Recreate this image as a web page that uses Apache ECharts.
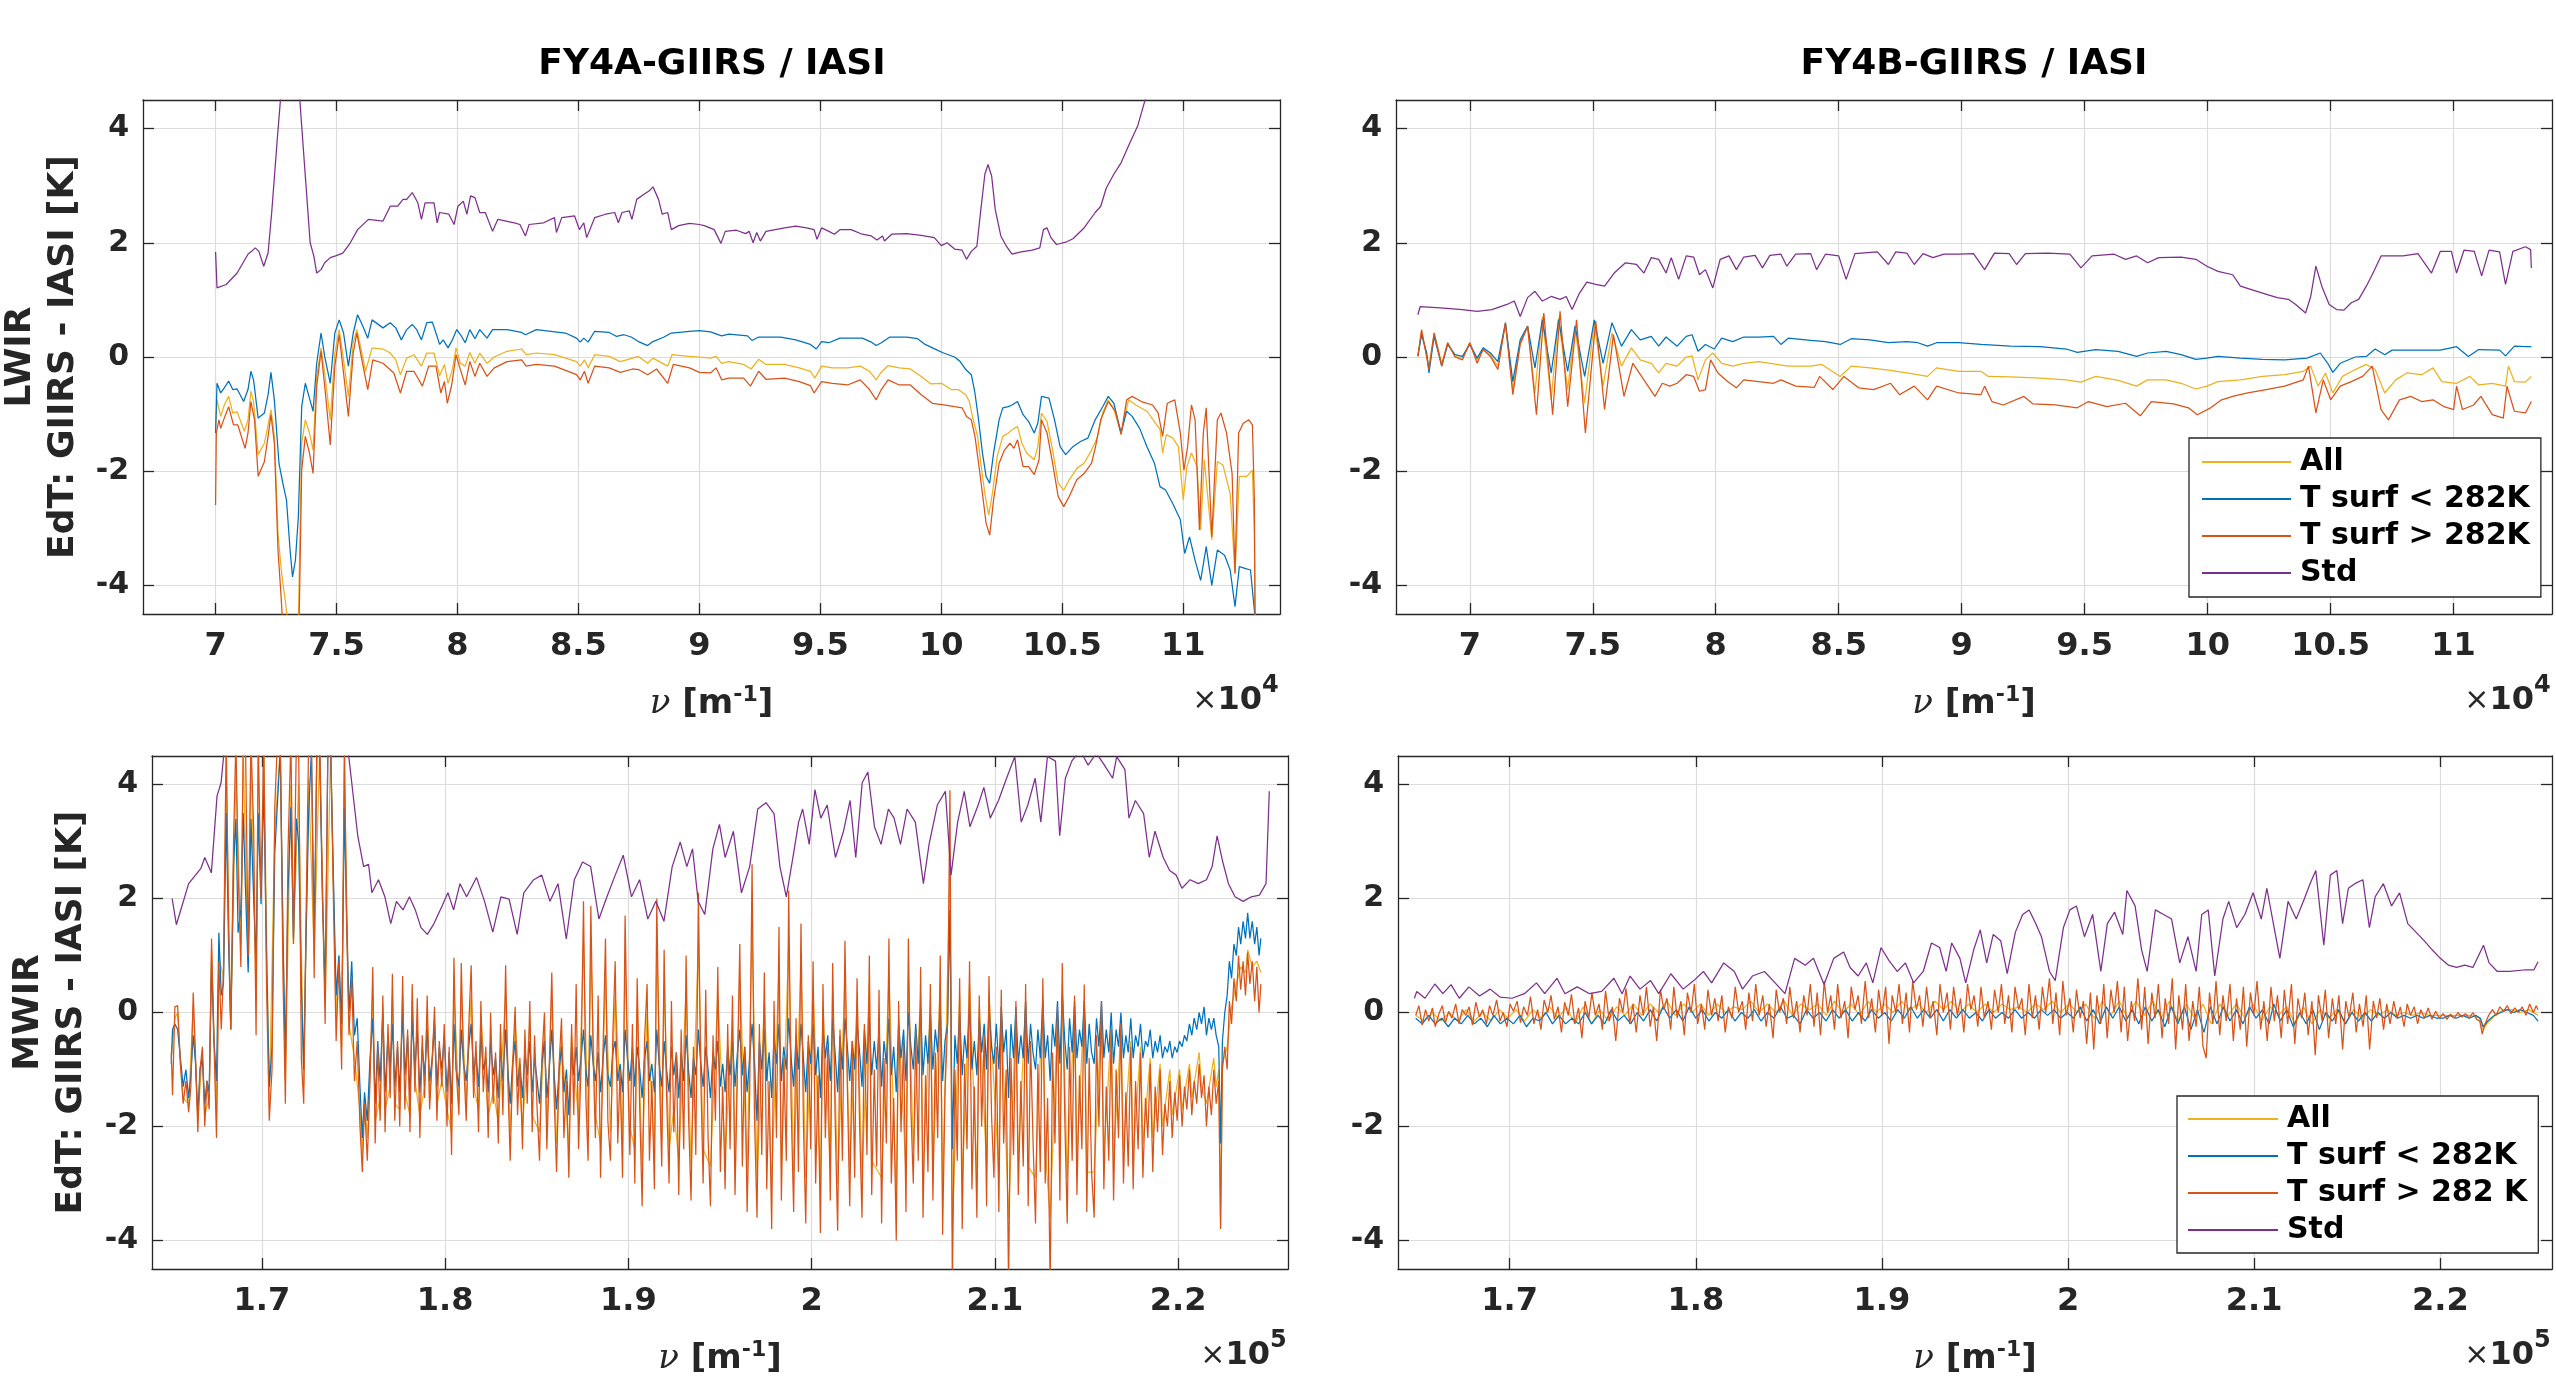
<!DOCTYPE html>
<html><head><meta charset="utf-8">
<script src="https://cdn.jsdelivr.net/npm/echarts@6/dist/echarts.min.js"></script>
<style>html,body{margin:0;padding:0;background:#fff}#c{width:2556px;height:1379px}</style>
</head><body><div id="c"></div>
<script>
// ---------- tick values & labels ----------
const lwirTicks = [7, 7.5, 8, 8.5, 9, 9.5, 10, 10.5, 11];
const mwirTicks = [1.7, 1.8, 1.9, 2.0, 2.1, 2.2];
const yTicks = [-4, -2, 0, 2, 4];
const panelTitles = ['FY4A-GIIRS / IASI', 'FY4B-GIIRS / IASI'];
const bandNames = ['LWIR', 'MWIR'];
const legendTop = ['All', 'T surf < 282K', 'T surf > 282K', 'Std'];
const legendBottom = ['All', 'T surf < 282K', 'T surf > 282 K', 'Std'];

// ---------- FY4A LWIR (x in 1e4 m^-1) : flat [x,y,x,y,...] ----------
const fy4aLwirAll = [7.000,-1.22,7.006,-0.75,7.021,-1.04,7.036,-0.84,7.054,-0.69,7.071,-0.98,7.089,-0.96,7.119,-1.30,7.134,-1.10,7.146,-0.60,7.157,-0.78,7.176,-1.71,7.202,-1.51,7.217,-1.19,7.229,-0.92,7.243,-1.39,7.258,-3.09,7.273,-3.79,7.288,-4.26,7.300,-4.70,7.342,-4.70,7.356,-1.51,7.371,-1.10,7.388,-1.33,7.403,-1.63,7.418,-0.34,7.436,0.16,7.451,-0.28,7.474,-1.10,7.493,0.07,7.511,0.48,7.529,-0.05,7.549,-0.69,7.569,0.25,7.584,0.48,7.602,0.13,7.620,-0.25,7.647,0.16,7.692,0.14,7.722,0.07,7.745,-0.05,7.764,-0.31,7.790,-0.02,7.820,0.04,7.851,-0.16,7.873,0.07,7.903,0.07,7.926,-0.33,7.946,-0.13,7.961,-0.46,7.979,-0.22,7.994,0.16,8.012,-0.11,8.032,-0.16,8.051,0.08,8.072,-0.11,8.092,0.07,8.122,-0.11,8.152,0.00,8.205,0.10,8.265,0.14,8.284,0.04,8.326,0.07,8.401,0.04,8.492,-0.08,8.507,-0.16,8.525,-0.05,8.540,-0.19,8.567,0.04,8.627,0.01,8.673,-0.08,8.724,-0.02,8.748,0.01,8.786,-0.11,8.808,-0.02,8.869,-0.16,8.887,0.04,8.959,0.01,9.000,0.00,9.046,-0.02,9.069,0.01,9.092,-0.11,9.122,-0.08,9.183,-0.13,9.214,-0.21,9.245,-0.04,9.275,-0.13,9.352,-0.13,9.413,-0.19,9.459,-0.25,9.477,-0.37,9.505,-0.16,9.550,-0.19,9.612,-0.19,9.665,-0.16,9.703,-0.25,9.731,-0.40,9.749,-0.28,9.780,-0.15,9.826,-0.19,9.872,-0.21,9.917,-0.34,9.955,-0.47,10.001,-0.46,10.040,-0.57,10.070,-0.57,10.101,-0.66,10.116,-0.78,10.132,-1.10,10.150,-1.39,10.165,-1.92,10.180,-2.39,10.196,-2.77,10.211,-2.39,10.231,-1.74,10.254,-1.39,10.277,-1.33,10.300,-1.25,10.315,-1.22,10.333,-1.51,10.353,-1.68,10.384,-1.80,10.399,-1.57,10.414,-0.98,10.437,-1.13,10.460,-1.63,10.483,-2.21,10.506,-2.33,10.529,-2.15,10.560,-1.95,10.590,-1.86,10.621,-1.63,10.644,-1.42,10.667,-0.98,10.690,-0.75,10.713,-0.92,10.743,-1.33,10.774,-0.75,10.804,-0.84,10.850,-0.95,10.881,-1.13,10.904,-1.27,10.915,-1.68,10.930,-1.36,10.957,-1.42,10.980,-1.57,11.000,-2.50,11.015,-1.92,11.034,-1.68,11.057,-1.92,11.072,-3.03,11.087,-1.80,11.118,-3.20,11.141,-1.83,11.164,-1.89,11.194,-2.39,11.214,-3.79,11.232,-2.09,11.263,-2.09,11.286,-1.98,11.294,-3.09,11.297,-4.60];
const fy4aLwirCold = [7.000,-1.33,7.006,-0.46,7.021,-0.63,7.036,-0.54,7.054,-0.42,7.071,-0.57,7.089,-0.56,7.116,-0.78,7.134,-0.57,7.146,-0.25,7.157,-0.40,7.176,-1.07,7.202,-0.98,7.217,-0.66,7.229,-0.27,7.243,-0.75,7.262,-1.86,7.278,-2.21,7.293,-2.50,7.308,-3.38,7.318,-3.85,7.330,-3.56,7.342,-2.81,7.356,-0.87,7.371,-0.46,7.388,-0.72,7.403,-0.95,7.418,-0.11,7.436,0.42,7.451,0.01,7.474,-0.46,7.493,0.42,7.511,0.65,7.529,0.42,7.549,-0.16,7.569,0.42,7.587,0.74,7.609,0.54,7.629,0.33,7.647,0.65,7.692,0.51,7.722,0.60,7.745,0.51,7.768,0.30,7.790,0.48,7.813,0.57,7.831,0.48,7.851,0.30,7.873,0.60,7.896,0.61,7.911,0.42,7.926,0.22,7.941,0.30,7.961,0.16,7.979,0.30,7.997,0.48,8.017,0.36,8.032,0.25,8.051,0.48,8.072,0.32,8.092,0.48,8.122,0.33,8.145,0.48,8.205,0.48,8.265,0.43,8.281,0.39,8.326,0.48,8.386,0.45,8.446,0.42,8.492,0.33,8.507,0.26,8.522,0.33,8.540,0.26,8.567,0.45,8.627,0.43,8.658,0.36,8.688,0.39,8.718,0.35,8.748,0.27,8.786,0.20,8.808,0.27,8.854,0.35,8.884,0.42,8.959,0.45,9.000,0.46,9.046,0.44,9.092,0.37,9.122,0.40,9.199,0.37,9.217,0.29,9.245,0.35,9.336,0.35,9.398,0.30,9.459,0.22,9.483,0.14,9.505,0.27,9.535,0.25,9.581,0.33,9.673,0.33,9.711,0.26,9.731,0.20,9.752,0.25,9.787,0.35,9.856,0.35,9.902,0.32,9.933,0.22,9.979,0.13,10.009,0.07,10.055,0.00,10.078,-0.08,10.101,-0.22,10.124,-0.31,10.139,-0.63,10.154,-1.10,10.170,-1.68,10.185,-2.09,10.200,-2.21,10.216,-1.68,10.239,-1.10,10.254,-0.89,10.277,-0.87,10.292,-0.84,10.315,-0.78,10.338,-1.01,10.361,-1.13,10.384,-1.33,10.399,-1.16,10.414,-0.69,10.445,-0.72,10.468,-1.10,10.491,-1.57,10.514,-1.71,10.544,-1.57,10.575,-1.48,10.606,-1.42,10.636,-1.10,10.667,-0.87,10.690,-0.69,10.713,-0.81,10.743,-1.33,10.766,-0.95,10.789,-1.04,10.820,-1.25,10.850,-1.57,10.881,-1.86,10.904,-2.27,10.927,-2.33,10.957,-2.57,10.988,-2.85,11.006,-3.44,11.026,-3.15,11.049,-3.56,11.072,-3.91,11.095,-3.32,11.118,-4.00,11.141,-3.38,11.171,-3.47,11.194,-3.73,11.214,-4.37,11.232,-3.67,11.255,-3.70,11.278,-3.73,11.294,-4.43,11.297,-4.60];
const fy4aLwirWarm = [7.000,-2.59,7.003,-1.33,7.014,-1.10,7.021,-1.25,7.036,-1.07,7.054,-0.87,7.074,-1.19,7.092,-1.19,7.122,-1.60,7.134,-1.33,7.146,-0.78,7.161,-1.10,7.176,-2.09,7.202,-1.83,7.217,-1.39,7.229,-1.01,7.243,-1.51,7.258,-3.38,7.270,-4.14,7.278,-4.70,7.345,-4.70,7.356,-1.98,7.371,-1.39,7.388,-1.68,7.403,-2.04,7.418,-0.51,7.436,0.10,7.454,-0.63,7.474,-1.54,7.493,-0.16,7.511,0.39,7.529,-0.28,7.549,-1.04,7.569,0.07,7.584,0.42,7.602,0.01,7.629,-0.57,7.650,-0.05,7.692,-0.11,7.737,-0.28,7.764,-0.63,7.790,-0.25,7.820,-0.25,7.855,-0.51,7.881,-0.16,7.911,-0.16,7.931,-0.63,7.946,-0.43,7.958,-0.81,7.976,-0.49,7.994,0.04,8.012,-0.22,8.032,-0.49,8.051,-0.08,8.072,-0.34,8.092,-0.11,8.122,-0.34,8.152,-0.19,8.205,-0.08,8.265,-0.05,8.284,-0.16,8.326,-0.13,8.401,-0.16,8.492,-0.31,8.507,-0.40,8.525,-0.25,8.540,-0.46,8.567,-0.16,8.627,-0.19,8.673,-0.27,8.724,-0.21,8.748,-0.22,8.786,-0.31,8.823,-0.21,8.869,-0.46,8.892,-0.13,8.959,-0.19,9.000,-0.27,9.046,-0.28,9.069,-0.19,9.092,-0.40,9.122,-0.37,9.183,-0.37,9.211,-0.51,9.245,-0.25,9.275,-0.39,9.352,-0.37,9.413,-0.43,9.459,-0.50,9.474,-0.63,9.505,-0.43,9.550,-0.46,9.612,-0.49,9.665,-0.40,9.703,-0.57,9.731,-0.75,9.752,-0.57,9.780,-0.40,9.826,-0.49,9.872,-0.49,9.917,-0.66,9.963,-0.81,10.009,-0.84,10.055,-0.87,10.086,-0.89,10.104,-1.04,10.124,-1.10,10.139,-1.39,10.154,-1.86,10.170,-2.39,10.185,-2.91,10.200,-3.12,10.216,-2.50,10.239,-1.86,10.261,-1.63,10.284,-1.51,10.300,-1.60,10.315,-1.45,10.338,-1.92,10.361,-1.92,10.384,-2.06,10.404,-1.80,10.414,-1.10,10.437,-1.33,10.460,-1.86,10.483,-2.44,10.506,-2.62,10.529,-2.44,10.560,-2.15,10.590,-2.04,10.621,-1.86,10.636,-1.60,10.659,-1.10,10.690,-0.78,10.720,-0.95,10.743,-1.36,10.766,-0.75,10.789,-0.69,10.827,-0.78,10.873,-0.84,10.896,-0.98,10.915,-1.39,10.934,-0.81,10.965,-0.75,10.988,-1.33,11.003,-1.98,11.018,-1.57,11.034,-0.84,11.049,-1.10,11.067,-3.03,11.083,-1.33,11.095,-0.89,11.118,-3.15,11.141,-1.10,11.156,-0.98,11.179,-1.33,11.202,-2.04,11.214,-3.79,11.229,-1.33,11.248,-1.16,11.271,-1.10,11.286,-1.19,11.294,-2.50,11.297,-4.60];
const fy4aLwirStd = [7.000,1.84,7.006,1.21,7.044,1.27,7.089,1.47,7.134,1.80,7.149,1.85,7.164,1.91,7.179,1.85,7.199,1.59,7.217,1.82,7.232,2.53,7.255,3.81,7.270,4.60,7.290,6.20,7.310,6.80,7.330,6.00,7.345,4.70,7.353,4.22,7.373,3.05,7.391,2.00,7.406,1.77,7.418,1.47,7.436,1.53,7.451,1.65,7.474,1.74,7.496,1.77,7.526,1.82,7.557,2.00,7.587,2.23,7.632,2.41,7.692,2.38,7.722,2.64,7.753,2.64,7.775,2.76,7.790,2.76,7.813,2.88,7.836,2.70,7.851,2.41,7.866,2.70,7.903,2.70,7.916,2.35,7.926,2.53,7.964,2.50,7.986,2.32,8.002,2.64,8.024,2.73,8.039,2.50,8.054,2.82,8.072,2.79,8.092,2.53,8.115,2.53,8.145,2.20,8.167,2.41,8.235,2.35,8.258,2.32,8.281,2.12,8.296,2.32,8.356,2.35,8.401,2.44,8.409,2.18,8.431,2.44,8.484,2.47,8.504,2.23,8.522,2.35,8.534,2.09,8.567,2.44,8.612,2.50,8.650,2.53,8.665,2.35,8.680,2.53,8.710,2.56,8.721,2.41,8.741,2.76,8.771,2.85,8.793,2.91,8.808,2.98,8.831,2.76,8.846,2.50,8.869,2.53,8.884,2.23,8.914,2.30,8.959,2.34,9.000,2.32,9.020,2.30,9.061,2.23,9.089,1.99,9.107,2.20,9.153,2.22,9.191,2.16,9.206,2.20,9.222,2.00,9.237,2.18,9.252,2.03,9.275,2.20,9.352,2.26,9.398,2.29,9.443,2.26,9.474,2.23,9.486,2.06,9.505,2.26,9.535,2.20,9.558,2.15,9.581,2.23,9.627,2.23,9.673,2.15,9.711,2.12,9.734,2.05,9.757,2.12,9.765,2.03,9.795,2.15,9.856,2.16,9.917,2.13,9.971,2.09,10.000,1.95,10.024,2.00,10.055,1.89,10.086,1.87,10.104,1.71,10.124,1.85,10.147,1.94,10.162,2.53,10.180,3.20,10.193,3.37,10.208,3.17,10.223,2.58,10.246,2.12,10.269,1.94,10.292,1.80,10.330,1.84,10.376,1.87,10.407,1.91,10.422,2.23,10.437,2.26,10.453,2.09,10.476,1.97,10.514,2.01,10.544,2.07,10.590,2.26,10.636,2.53,10.659,2.64,10.682,2.96,10.713,3.20,10.743,3.40,10.774,3.70,10.812,4.05,10.843,4.51,10.900,5.20,11.000,6.40,11.150,8.00,11.297,9.50];

// ---------- FY4B LWIR ----------
const fy4bLwirAll = [6.789,0.01,6.804,0.45,6.834,-0.16,6.855,0.42,6.886,-0.11,6.910,0.25,6.940,0.01,6.970,-0.02,7.000,0.25,7.030,-0.05,7.054,0.13,7.084,0.04,7.114,-0.16,7.145,0.58,7.175,-0.57,7.205,0.25,7.235,0.54,7.265,-0.63,7.295,0.71,7.331,-0.75,7.361,0.68,7.398,-0.57,7.428,0.54,7.467,-0.81,7.506,0.60,7.542,-0.51,7.578,0.42,7.617,-0.16,7.657,0.16,7.693,-0.05,7.738,-0.11,7.768,-0.28,7.798,-0.11,7.843,-0.16,7.880,0.00,7.904,0.02,7.928,-0.40,7.958,-0.05,7.988,0.07,8.024,-0.11,8.069,-0.16,8.114,-0.11,8.175,-0.08,8.235,-0.12,8.295,-0.16,8.386,-0.16,8.431,-0.13,8.506,-0.34,8.551,-0.16,8.627,-0.19,8.702,-0.23,8.777,-0.28,8.861,-0.34,8.898,-0.19,8.988,-0.25,9.078,-0.25,9.108,-0.34,9.199,-0.35,9.319,-0.37,9.425,-0.40,9.485,-0.44,9.545,-0.34,9.636,-0.41,9.711,-0.51,9.756,-0.40,9.831,-0.40,9.892,-0.46,9.952,-0.56,9.997,-0.51,10.042,-0.43,10.133,-0.40,10.223,-0.34,10.313,-0.31,10.389,-0.25,10.419,-0.16,10.449,-0.51,10.479,-0.28,10.509,-0.63,10.548,-0.34,10.600,-0.22,10.645,-0.13,10.681,-0.22,10.720,-0.63,10.765,-0.40,10.810,-0.28,10.870,-0.31,10.916,-0.19,10.952,-0.43,11.012,-0.46,11.066,-0.34,11.102,-0.49,11.157,-0.46,11.211,-0.51,11.223,-0.16,11.247,-0.43,11.292,-0.44,11.316,-0.34];
const fy4bLwirCold = [6.789,0.02,6.804,0.39,6.825,0.07,6.834,-0.28,6.855,0.36,6.886,-0.16,6.910,0.22,6.940,0.04,6.970,0.01,7.000,0.22,7.030,-0.02,7.054,0.16,7.084,0.07,7.114,-0.08,7.145,0.60,7.175,-0.43,7.205,0.30,7.235,0.54,7.265,-0.19,7.295,0.65,7.331,-0.28,7.361,0.65,7.398,-0.25,7.428,0.54,7.467,-0.34,7.506,0.65,7.542,-0.11,7.578,0.60,7.617,0.19,7.657,0.48,7.693,0.30,7.738,0.36,7.768,0.19,7.798,0.35,7.843,0.19,7.880,0.36,7.904,0.39,7.928,0.10,7.958,0.22,7.994,0.14,8.024,0.33,8.069,0.27,8.114,0.35,8.175,0.35,8.235,0.36,8.265,0.22,8.295,0.33,8.386,0.29,8.446,0.27,8.506,0.22,8.551,0.32,8.627,0.30,8.702,0.25,8.777,0.27,8.822,0.25,8.861,0.19,8.898,0.25,8.988,0.25,9.078,0.22,9.199,0.19,9.319,0.18,9.425,0.14,9.470,0.08,9.545,0.13,9.636,0.10,9.711,0.01,9.756,0.07,9.831,0.10,9.892,0.04,9.952,-0.04,9.997,-0.02,10.042,0.01,10.133,-0.02,10.223,-0.04,10.313,-0.05,10.404,-0.02,10.458,0.07,10.488,-0.11,10.509,-0.27,10.539,-0.11,10.600,0.00,10.645,0.01,10.681,0.14,10.720,0.04,10.750,0.12,10.855,0.12,10.946,0.12,11.012,0.18,11.060,0.01,11.102,0.13,11.187,0.12,11.211,0.02,11.247,0.19,11.292,0.18,11.316,0.18];
const fy4bLwirWarm = [6.789,0.01,6.804,0.48,6.834,-0.22,6.855,0.42,6.886,-0.16,6.910,0.25,6.940,0.00,6.970,-0.05,7.000,0.25,7.030,-0.11,7.054,0.13,7.084,0.01,7.114,-0.22,7.145,0.60,7.175,-0.66,7.205,0.22,7.235,0.54,7.271,-1.01,7.301,0.77,7.337,-1.01,7.367,0.80,7.398,-0.87,7.434,0.65,7.470,-1.33,7.512,0.63,7.548,-0.92,7.584,0.39,7.627,-0.69,7.663,-0.11,7.708,-0.40,7.753,-0.69,7.783,-0.46,7.813,-0.51,7.843,-0.46,7.880,-0.31,7.910,-0.34,7.934,-0.60,7.958,-0.57,7.979,-0.05,8.009,-0.28,8.048,-0.43,8.084,-0.54,8.114,-0.40,8.175,-0.43,8.235,-0.46,8.265,-0.40,8.325,-0.51,8.401,-0.53,8.422,-0.34,8.476,-0.57,8.521,-0.34,8.581,-0.54,8.642,-0.57,8.711,-0.46,8.747,-0.66,8.807,-0.51,8.861,-0.75,8.898,-0.51,8.988,-0.63,9.078,-0.66,9.093,-0.51,9.123,-0.78,9.169,-0.84,9.253,-0.69,9.289,-0.82,9.380,-0.84,9.470,-0.89,9.515,-0.78,9.590,-0.87,9.666,-0.81,9.726,-1.03,9.771,-0.78,9.861,-0.82,9.922,-0.89,9.958,-1.01,10.012,-0.89,10.057,-0.75,10.102,-0.69,10.163,-0.63,10.238,-0.57,10.313,-0.51,10.389,-0.40,10.410,-0.16,10.440,-0.98,10.470,-0.40,10.500,-0.75,10.539,-0.51,10.584,-0.43,10.630,-0.34,10.669,-0.16,10.705,-0.92,10.735,-1.10,10.780,-0.75,10.825,-0.69,10.870,-0.78,10.916,-0.75,10.961,-0.87,11.000,-0.92,11.012,-0.51,11.036,-0.92,11.081,-0.84,11.111,-0.69,11.157,-1.01,11.202,-1.07,11.217,-0.51,11.247,-0.95,11.292,-0.98,11.316,-0.78];
const fy4bLwirStd = [6.789,0.74,6.798,0.88,6.880,0.86,6.970,0.83,7.030,0.80,7.090,0.83,7.151,0.92,7.181,0.98,7.205,0.71,7.235,1.04,7.265,1.15,7.295,0.98,7.331,1.06,7.367,1.01,7.392,1.06,7.416,0.83,7.446,1.12,7.476,1.31,7.512,1.27,7.548,1.24,7.587,1.47,7.633,1.65,7.678,1.62,7.708,1.47,7.738,1.74,7.768,1.71,7.798,1.47,7.819,1.74,7.849,1.36,7.880,1.77,7.910,1.75,7.934,1.44,7.958,1.53,7.988,1.21,8.018,1.71,8.054,1.77,8.084,1.53,8.114,1.75,8.160,1.78,8.190,1.56,8.220,1.78,8.265,1.80,8.289,1.59,8.325,1.80,8.386,1.81,8.410,1.53,8.446,1.80,8.500,1.77,8.530,1.36,8.566,1.81,8.657,1.84,8.702,1.62,8.732,1.84,8.777,1.82,8.807,1.62,8.843,1.81,8.883,1.74,8.928,1.80,8.988,1.80,9.048,1.81,9.093,1.53,9.133,1.82,9.193,1.81,9.223,1.62,9.259,1.81,9.349,1.82,9.440,1.80,9.485,1.56,9.530,1.77,9.620,1.80,9.666,1.71,9.711,1.77,9.756,1.65,9.801,1.74,9.892,1.75,9.952,1.71,9.997,1.59,10.042,1.50,10.102,1.44,10.133,1.24,10.178,1.18,10.223,1.12,10.283,1.04,10.328,1.01,10.358,0.92,10.398,0.77,10.419,1.06,10.440,1.59,10.464,1.24,10.494,0.92,10.524,0.83,10.554,0.82,10.584,0.95,10.614,1.01,10.645,1.24,10.669,1.44,10.705,1.77,10.750,1.77,10.795,1.77,10.855,1.81,10.910,1.47,10.946,1.85,10.991,1.85,11.012,1.47,11.042,1.87,11.084,1.85,11.114,1.42,11.144,1.87,11.187,1.84,11.211,1.27,11.241,1.85,11.292,1.93,11.313,1.88,11.316,1.56];

// ---------- FY4A MWIR (x in 1e5 m^-1) ----------
const fy4aMwirAll = [1.6505,-0.8,1.6525,-0.1,1.6540,0.0,1.6555,-0.9,1.6570,-1.5,1.6600,-1.6,1.6625,0.1,1.6650,-1.9,1.6675,-0.7,1.6688,-1.8,1.6712,-1.5,1.6725,1.1,1.6752,-1.8,1.6765,1.0,1.6790,0.6,1.6805,4.2,1.6830,-0.3,1.6858,4.2,1.6885,1.2,1.6898,4.6,1.6925,0.8,1.6940,4.6,1.6968,0.2,1.6980,4.6,1.7010,4.6,1.7040,-1.6,1.7070,3.2,1.7100,4.6,1.7128,-1.2,1.7158,4.0,1.7172,1.2,1.7200,4.0,1.7228,-1.3,1.7255,4.1,1.7285,1.0,1.7315,4.6,1.7345,0.1,1.7375,4.6,1.7405,-0.1,1.7420,1.0,1.7435,-0.6,1.7450,4.2,1.7475,-0.2,1.7505,-0.8,1.7535,-1.7,1.7548,-2.5,1.7560,-1.5,1.7575,-2.2,1.7590,-1.0,1.7605,0.3,1.7618,-1.9,1.7645,-1.5,1.7660,0.1,1.7672,-1.7,1.7700,-1.3,1.7712,0.3,1.7725,-1.6,1.7752,-1.7,1.7768,0.3,1.7780,-1.4,1.7808,-1.8,1.7820,0.2,1.7835,-1.2,1.7862,-1.8,1.7888,-1.3,1.7902,0.0,1.7915,-1.5,1.7942,-0.1,1.7955,-1.6,1.7982,-1.2,1.8010,-1.7,1.8035,-2.1,1.8048,0.4,1.8075,-1.6,1.8088,0.3,1.8115,-1.6,1.8142,0.3,1.8155,-1.3,1.8182,-1.7,1.8195,-0.1,1.8235,-1.8,1.8262,-1.4,1.8290,-1.9,1.8330,0.3,1.8355,-2.1,1.8382,-0.2,1.8422,-2.0,1.8462,-0.2,1.8475,-1.8,1.8515,-2.1,1.8542,-0.3,1.8555,-2.0,1.8582,0.2,1.8608,-2.3,1.8635,-0.4,1.8675,-2.4,1.8690,-0.4,1.8728,-1.9,1.8755,1.2,1.8780,-2.1,1.8795,1.1,1.8820,-1.8,1.8848,-2.3,1.8875,0.6,1.8902,-2.1,1.8928,0.3,1.8968,-2.3,1.8982,0.9,1.9008,-2.0,1.9035,-2.4,1.9048,0.1,1.9075,-2.7,1.9102,0.0,1.9142,-2.5,1.9155,1.2,1.9182,-2.2,1.9195,0.5,1.9222,-2.4,1.9248,-1.7,1.9275,-2.6,1.9315,0.4,1.9342,-2.7,1.9382,1.2,1.9408,-2.4,1.9448,-2.7,1.9488,0.3,1.9528,-2.5,1.9568,-0.1,1.9582,-2.6,1.9608,0.6,1.9648,-2.8,1.9675,1.5,1.9702,-2.9,1.9742,0.2,1.9782,-3.0,1.9822,0.8,1.9835,-2.7,1.9875,1.2,1.9902,-2.8,1.9942,0.8,1.9968,-2.9,2.0008,0.4,2.0048,-3.0,2.0062,0.1,2.0102,-2.7,2.0115,0.4,2.0142,-3.0,2.0182,0.6,2.0208,-2.7,2.0248,0.2,2.0275,-2.9,2.0315,0.5,2.0328,-2.6,2.0382,-2.9,2.0422,0.6,2.0462,-3.2,2.0475,-0.1,2.0515,-2.8,2.0528,0.6,2.0555,-2.4,2.0595,0.3,2.0608,-2.9,2.0648,0.2,2.0662,-2.7,2.0702,0.5,2.0715,-3.1,2.0755,2.5,2.0768,-3.8,2.0808,0.3,2.0822,-3.0,2.0862,0.5,2.0902,-2.9,2.0915,0.1,2.0955,-2.7,2.0968,0.3,2.1022,-2.8,2.1035,0.1,2.1075,-3.6,2.1115,0.0,2.1128,-2.6,2.1168,0.2,2.1182,-2.7,2.1222,-2.9,2.1262,0.3,2.1275,-2.4,2.1302,-3.6,2.1342,-0.1,2.1355,-2.6,2.1368,0.5,2.1395,-2.9,2.1435,0.1,2.1448,-2.6,2.1488,0.2,2.1502,-2.8,2.1542,-2.8,2.1582,0.0,2.1595,-2.5,2.1635,-0.3,2.1648,-2.6,2.1688,-0.3,2.1702,-2.4,2.1742,-0.5,2.1755,-2.5,2.1795,-0.6,2.1808,-2.3,2.1848,-0.8,2.1862,-2.2,2.1902,-0.9,2.1915,-2.0,2.1955,-1.0,2.1968,-1.8,2.2008,-1.0,2.2022,-1.7,2.2062,-0.9,2.2075,-1.5,2.2115,-0.7,2.2128,-1.3,2.2155,-1.6,2.2195,-0.8,2.2208,-1.3,2.2222,-1.0,2.2232,-3.8,2.2242,-0.9,2.2268,-0.6,2.2292,0.1,2.2318,0.5,2.2342,0.8,2.2368,0.7,2.2380,1.1,2.2405,0.8,2.2430,0.9,2.2452,0.7];
const fy4aMwirCold = [1.6505,-0.9,1.6512,-0.3,1.6525,-0.2,1.6540,-0.3,1.6555,-0.8,1.6570,-1.3,1.6585,-1.0,1.6600,-1.5,1.6612,-1.1,1.6625,-0.4,1.6638,-0.9,1.6650,-1.8,1.6662,-1.0,1.6675,-0.8,1.6688,-1.6,1.6700,-1.2,1.6712,-1.4,1.6725,0.9,1.6738,-0.5,1.6752,-1.2,1.6765,1.4,1.6778,0.3,1.6790,0.5,1.6805,3.5,1.6818,1.2,1.6830,-0.3,1.6845,2.6,1.6858,3.4,1.6870,1.4,1.6885,1.8,1.6898,3.5,1.6910,2.2,1.6925,0.7,1.6940,3.4,1.6955,2.0,1.6968,0.9,1.6980,3.5,1.6995,1.9,1.7010,4.0,1.7025,1.0,1.7040,-1.3,1.7055,-0.6,1.7070,2.8,1.7085,3.7,1.7100,4.6,1.7115,1.3,1.7128,-0.8,1.7142,2.1,1.7158,3.6,1.7172,1.3,1.7188,3.4,1.7200,3.0,1.7215,0.5,1.7228,-1.0,1.7240,1.2,1.7255,3.5,1.7270,4.6,1.7285,1.4,1.7300,4.6,1.7315,4.6,1.7330,2.0,1.7345,0.4,1.7360,4.6,1.7375,4.6,1.7390,2.4,1.7405,0.3,1.7420,1.0,1.7435,-0.2,1.7450,3.6,1.7462,1.7,1.7475,0.0,1.7490,0.9,1.7505,-0.4,1.7520,-0.1,1.7535,-1.3,1.7548,-2.2,1.7560,-1.4,1.7575,-1.9,1.7590,-0.8,1.7605,-0.1,1.7618,-1.6,1.7632,-0.5,1.7645,-1.2,1.7660,0.0,1.7672,-1.4,1.7688,-0.4,1.7700,-1.0,1.7712,-0.2,1.7725,-1.3,1.7740,-0.6,1.7752,-1.4,1.7768,0.0,1.7780,-1.1,1.7795,-0.4,1.7808,-1.5,1.7820,-0.1,1.7835,-1.0,1.7848,-0.3,1.7862,-1.4,1.7875,-0.6,1.7888,-1.1,1.7902,-0.3,1.7915,-1.2,1.7930,-0.8,1.7942,-0.2,1.7955,-1.3,1.7968,-0.6,1.7982,-1.0,1.7995,-0.4,1.8010,-1.4,1.8022,-0.7,1.8035,-1.6,1.8048,-0.2,1.8060,-1.0,1.8075,-1.3,1.8088,-0.3,1.8100,-0.9,1.8115,-1.2,1.8128,-0.6,1.8142,-0.2,1.8155,-1.1,1.8168,-0.7,1.8182,-1.3,1.8195,-0.4,1.8208,-1.0,1.8222,-0.8,1.8235,-1.4,1.8248,-0.5,1.8262,-1.1,1.8275,-0.8,1.8290,-1.5,1.8302,-0.6,1.8315,-1.2,1.8330,-0.3,1.8342,-1.0,1.8355,-1.6,1.8368,-0.9,1.8382,-0.5,1.8395,-1.3,1.8408,-0.9,1.8422,-1.5,1.8435,-0.7,1.8448,-1.1,1.8462,-0.5,1.8475,-1.4,1.8488,-0.8,1.8502,-1.2,1.8515,-1.6,1.8528,-0.9,1.8542,-0.5,1.8555,-1.5,1.8568,-1.0,1.8582,-0.3,1.8595,-1.1,1.8608,-1.7,1.8622,-1.0,1.8635,-0.6,1.8648,-1.4,1.8662,-1.0,1.8675,-1.8,1.8690,-0.6,1.8702,-1.1,1.8715,-0.6,1.8728,-1.2,1.8742,-0.8,1.8755,-0.3,1.8768,-1.0,1.8780,-1.3,1.8795,-0.4,1.8808,-0.9,1.8820,-1.2,1.8835,-0.7,1.8848,-1.4,1.8862,-0.8,1.8875,-0.4,1.8888,-1.1,1.8902,-1.3,1.8915,-0.7,1.8928,-0.5,1.8942,-1.2,1.8955,-0.9,1.8968,-1.4,1.8982,-0.3,1.8995,-0.8,1.9008,-1.2,1.9022,-0.6,1.9035,-1.3,1.9048,-0.6,1.9062,-1.0,1.9075,-1.5,1.9088,-0.8,1.9102,-0.5,1.9115,-1.2,1.9128,-0.9,1.9142,-1.4,1.9155,-0.3,1.9168,-0.9,1.9182,-1.3,1.9195,-0.5,1.9208,-1.0,1.9222,-1.4,1.9235,-0.6,1.9248,-1.1,1.9262,-0.7,1.9275,-1.5,1.9288,-0.7,1.9302,-1.2,1.9315,-0.4,1.9328,-1.0,1.9342,-1.5,1.9355,-0.8,1.9368,-1.1,1.9382,-0.3,1.9395,-0.9,1.9408,-1.3,1.9422,-0.6,1.9435,-1.0,1.9448,-1.5,1.9462,-0.7,1.9475,-1.0,1.9488,-0.5,1.9502,-1.3,1.9515,-0.9,1.9528,-1.4,1.9542,-0.6,1.9555,-1.1,1.9568,-0.5,1.9582,-1.3,1.9595,-0.7,1.9608,-0.3,1.9622,-1.1,1.9635,-0.6,1.9648,-1.4,1.9662,-0.8,1.9675,-0.2,1.9688,-0.9,1.9702,-1.9,1.9715,-0.5,1.9728,-1.0,1.9742,-0.3,1.9755,-1.2,1.9768,-0.7,1.9782,-1.5,1.9795,-0.4,1.9808,-0.9,1.9822,-0.2,1.9835,-1.2,1.9848,-0.6,1.9862,-1.0,1.9875,-0.1,1.9888,-0.8,1.9902,-1.3,1.9915,-0.4,1.9928,-1.0,1.9942,-0.2,1.9955,-0.8,1.9968,-1.4,1.9982,-0.5,1.9995,-0.9,2.0008,-0.2,2.0022,-1.1,2.0035,-0.6,2.0048,-1.5,2.0062,-0.3,2.0075,-0.8,2.0088,-0.4,2.0102,-1.2,2.0115,-0.1,2.0128,-0.7,2.0142,-1.4,2.0155,-0.4,2.0168,-1.0,2.0182,-0.1,2.0195,-0.6,2.0208,-1.2,2.0222,-0.5,2.0235,-1.0,2.0248,-0.2,2.0262,-0.7,2.0275,-1.3,2.0288,-0.3,2.0302,-0.9,2.0315,-0.1,2.0328,-1.1,2.0342,-0.5,2.0355,-1.0,2.0368,-0.3,2.0382,-1.3,2.0395,-0.5,2.0408,-0.9,2.0422,-0.1,2.0435,-1.1,2.0448,-0.6,2.0462,-1.4,2.0475,-0.2,2.0488,-0.8,2.0502,-0.3,2.0515,-1.2,2.0528,0.0,2.0542,-0.6,2.0555,-1.0,2.0568,-0.2,2.0582,-0.9,2.0595,0.1,2.0608,-1.1,2.0622,-0.4,2.0635,-0.9,2.0648,0.0,2.0662,-1.0,2.0675,-0.3,2.0688,-0.7,2.0702,0.1,2.0715,-1.2,2.0728,-0.5,2.0742,-0.2,2.0755,1.8,2.0768,-2.4,2.0782,-0.4,2.0795,-0.9,2.0808,0.0,2.0822,-1.1,2.0835,-0.4,2.0848,-0.8,2.0862,0.1,2.0875,-1.0,2.0888,-0.5,2.0902,-1.1,2.0915,-0.1,2.0928,-0.7,2.0942,-0.2,2.0955,-1.0,2.0968,0.1,2.0982,-0.6,2.0995,-0.9,2.1008,-0.2,2.1022,-1.0,2.1035,0.1,2.1048,-0.7,2.1062,-0.3,2.1075,-1.5,2.1088,-0.2,2.1102,-0.8,2.1115,0.1,2.1128,-0.9,2.1142,-0.4,2.1155,-0.8,2.1168,0.2,2.1182,-0.9,2.1195,-0.2,2.1208,-0.7,2.1222,-1.0,2.1235,-0.3,2.1248,-0.8,2.1262,0.2,2.1275,-0.8,2.1288,-0.4,2.1302,-1.2,2.1315,-0.2,2.1328,-0.6,2.1342,0.2,2.1355,-0.9,2.1368,0.3,2.1382,-0.5,2.1395,-1.0,2.1408,-0.1,2.1422,-0.7,2.1435,0.2,2.1448,-0.8,2.1462,-0.3,2.1475,-0.6,2.1488,0.2,2.1502,-0.9,2.1515,-0.2,2.1528,-0.7,2.1542,-0.9,2.1555,-0.1,2.1568,-0.6,2.1582,0.2,2.1595,-0.8,2.1608,-0.3,2.1622,-0.7,2.1635,0.0,2.1648,-0.9,2.1662,-0.3,2.1675,-0.6,2.1688,0.0,2.1702,-0.8,2.1715,-0.4,2.1728,-0.7,2.1742,-0.1,2.1755,-0.8,2.1768,-0.4,2.1782,-0.6,2.1795,-0.2,2.1808,-0.8,2.1822,-0.5,2.1835,-0.6,2.1848,-0.3,2.1862,-0.8,2.1875,-0.5,2.1888,-0.7,2.1902,-0.4,2.1915,-0.8,2.1928,-0.6,2.1942,-0.7,2.1955,-0.5,2.1968,-0.8,2.1982,-0.6,2.1995,-0.7,2.2008,-0.5,2.2022,-0.6,2.2035,-0.4,2.2048,-0.5,2.2062,-0.2,2.2075,-0.4,2.2088,-0.1,2.2102,-0.3,2.2115,0.0,2.2128,-0.2,2.2142,0.1,2.2155,-0.4,2.2168,-0.1,2.2182,-0.3,2.2195,-0.1,2.2208,-0.4,2.2222,-0.6,2.2232,-2.3,2.2242,-0.5,2.2255,0.0,2.2268,0.3,2.2280,0.9,2.2292,0.6,2.2305,1.2,2.2318,1.0,2.2330,1.5,2.2342,1.2,2.2355,1.6,2.2368,1.3,2.2380,1.75,2.2392,1.3,2.2405,1.6,2.2418,1.2,2.2430,1.5,2.2442,1.0,2.2452,1.3];
const fy4aMwirWarm = [1.6505,-0.70,1.6512,-1.45,1.6525,0.10,1.6540,0.12,1.6555,-0.90,1.6570,-1.60,1.6585,-1.20,1.6600,-1.75,1.6612,-1.30,1.6625,0.35,1.6638,-0.80,1.6650,-2.10,1.6662,-1.00,1.6675,-0.60,1.6688,-2.00,1.6700,-1.20,1.6712,-1.70,1.6725,1.30,1.6738,-0.50,1.6752,-2.20,1.6765,0.90,1.6778,-0.30,1.6790,0.70,1.6805,4.8,1.6818,1.5,1.6830,-0.30,1.6845,3.0,1.6858,4.8,1.6870,2.5,1.6885,0.8,1.6898,4.8,1.6910,4.8,1.6925,1.0,1.6940,4.8,1.6955,3.2,1.6968,-0.4,1.6980,4.8,1.6995,2.0,1.7010,4.8,1.7025,0.5,1.7040,-1.9,1.7055,-1.0,1.7070,3.6,1.7085,4.8,1.7100,4.8,1.7115,0.6,1.7128,-1.6,1.7142,2.8,1.7158,4.8,1.7172,1.2,1.7188,4.8,1.7200,4.8,1.7215,-0.8,1.7228,-1.6,1.7240,1.5,1.7255,4.8,1.7270,4.8,1.7285,0.6,1.7300,4.8,1.7315,4.8,1.7330,2.2,1.7345,-0.2,1.7360,4.8,1.7375,4.8,1.7390,2.0,1.7405,-0.5,1.7420,0.9,1.7435,-1.0,1.7450,4.8,1.7462,1.6,1.7475,-0.4,1.7490,0.6,1.7505,-1.2,1.7520,-0.5,1.7535,-2.0,1.7548,-2.8,1.7560,-1.6,1.7575,-2.6,1.7590,-1.2,1.7605,0.80,1.7618,-2.3,1.7632,-0.6,1.7645,-1.9,1.7660,0.3,1.7672,-2.1,1.7688,-0.2,1.7700,-1.5,1.7712,0.68,1.7725,-1.9,1.7740,-0.5,1.7752,-2.0,1.7768,0.64,1.7780,-1.7,1.7795,-0.3,1.7808,-2.1,1.7820,0.5,1.7835,-1.4,1.7848,0.25,1.7862,-2.2,1.7875,-0.4,1.7888,-1.5,1.7902,0.3,1.7915,-1.7,1.7930,-0.8,1.7942,0.1,1.7955,-1.9,1.7968,-0.5,1.7982,-1.3,1.7995,-0.2,1.8010,-2.0,1.8022,-0.6,1.8035,-2.5,1.8048,0.96,1.8060,-1.0,1.8075,-1.8,1.8088,0.87,1.8100,-0.8,1.8115,-1.9,1.8128,-0.3,1.8142,0.83,1.8155,-1.5,1.8168,-0.5,1.8182,-2.1,1.8195,0.2,1.8208,-1.4,1.8222,-0.6,1.8235,-2.2,1.8248,0.0,1.8262,-1.6,1.8275,-0.7,1.8290,-2.3,1.8302,-0.2,1.8315,-1.8,1.8330,0.83,1.8342,-1.2,1.8355,-2.6,1.8368,-0.9,1.8382,0.1,1.8395,-1.8,1.8408,-0.8,1.8422,-2.4,1.8435,-0.3,1.8448,-1.6,1.8462,0.2,1.8475,-2.1,1.8488,-0.4,1.8502,-1.7,1.8515,-2.6,1.8528,-0.8,1.8542,0.0,1.8555,-2.4,1.8568,-1.0,1.8582,0.7,1.8595,-1.5,1.8608,-2.8,1.8622,-0.9,1.8635,-0.1,1.8648,-2.2,1.8662,-1.2,1.8675,-2.9,1.8690,-0.2,1.8702,-1.8,1.8715,0.5,1.8728,-2.4,1.8742,-0.9,1.8755,1.95,1.8768,-1.5,1.8780,-2.6,1.8795,1.87,1.8808,-0.8,1.8820,-2.2,1.8835,0.3,1.8848,-2.9,1.8862,-0.6,1.8875,1.3,1.8888,-1.9,1.8902,-2.6,1.8915,-0.4,1.8928,0.9,1.8942,-2.3,1.8955,-1.0,1.8968,-2.9,1.8982,1.7,1.8995,-0.8,1.9008,-2.5,1.9022,-0.2,1.9035,-3.0,1.9048,0.6,1.9062,-1.7,1.9075,-3.4,1.9088,-0.5,1.9102,0.5,1.9115,-2.6,1.9128,-1.2,1.9142,-3.1,1.9155,2.0,1.9168,-0.9,1.9182,-2.7,1.9195,1.1,1.9208,-1.4,1.9222,-3.0,1.9235,0.2,1.9248,-2.1,1.9262,-0.7,1.9275,-3.2,1.9288,-0.3,1.9302,-2.4,1.9315,1.0,1.9328,-1.8,1.9342,-3.3,1.9355,-0.6,1.9368,-2.5,1.9382,2.1,1.9395,-1.1,1.9408,-3.0,1.9422,0.4,1.9435,-2.2,1.9448,-3.4,1.9462,-0.4,1.9475,-1.9,1.9488,0.8,1.9502,-2.8,1.9515,-1.3,1.9528,-3.1,1.9542,-0.2,1.9555,-2.4,1.9568,0.3,1.9582,-3.2,1.9595,-1.0,1.9608,1.2,1.9622,-2.7,1.9635,-0.6,1.9648,-3.5,1.9662,-1.4,1.9675,2.6,1.9688,-1.8,1.9702,-3.6,1.9715,-0.2,1.9728,-2.5,1.9742,0.7,1.9755,-3.1,1.9768,-1.2,1.9782,-3.8,1.9795,0.2,1.9808,-2.2,1.9822,1.5,1.9835,-3.3,1.9848,-0.8,1.9862,-2.6,1.9875,2.14,1.9888,-1.6,1.9902,-3.5,1.9915,-0.1,1.9928,-2.8,1.9942,1.56,1.9955,-1.9,1.9968,-3.7,1.9982,-0.4,1.9995,-2.4,2.0008,0.9,2.0022,-3.0,2.0035,-1.1,2.0048,-3.87,2.0062,0.5,2.0075,-2.2,2.0088,-0.6,2.0102,-3.3,2.0115,0.87,2.0128,-1.8,2.0142,-3.83,2.0155,-0.3,2.0168,-2.6,2.0182,1.26,2.0195,-1.3,2.0208,-3.4,2.0222,-0.5,2.0235,-2.9,2.0248,0.6,2.0262,-2.0,2.0275,-3.6,2.0288,-0.2,2.0302,-2.5,2.0315,1.0,2.0328,-3.2,2.0342,-1.0,2.0355,-2.7,2.0368,0.4,2.0382,-3.7,2.0395,-0.8,2.0408,-2.3,2.0422,1.3,2.0435,-3.0,2.0448,-1.5,2.0462,-4.0,2.0475,0.2,2.0488,-2.1,2.0502,-0.5,2.0515,-3.5,2.0528,1.3,2.0542,-1.7,2.0555,-3.0,2.0568,-0.3,2.0582,-2.6,2.0595,0.8,2.0608,-3.6,2.0622,-1.1,2.0635,-2.8,2.0648,0.5,2.0662,-3.3,2.0675,-0.7,2.0688,-2.2,2.0702,1.0,2.0715,-3.9,2.0728,-1.4,2.0742,-0.2,2.0755,3.9,2.0768,-4.8,2.0782,-1.0,2.0795,-2.6,2.0808,0.6,2.0822,-3.8,2.0835,-0.9,2.0848,-2.4,2.0862,0.9,2.0875,-3.1,2.0888,-1.3,2.0902,-3.6,2.0915,0.3,2.0928,-2.0,2.0942,-0.4,2.0955,-3.4,2.0968,0.64,2.0982,-1.8,2.0995,-2.9,2.1008,-0.6,2.1022,-3.5,2.1035,0.4,2.1048,-2.3,2.1062,-1.0,2.1075,-4.8,2.1088,-0.8,2.1102,-2.5,2.1115,0.2,2.1128,-3.2,2.1142,-1.2,2.1155,-2.7,2.1168,0.5,2.1182,-3.4,2.1195,-0.5,2.1208,-2.2,2.1222,-3.7,2.1235,-0.9,2.1248,-2.8,2.1262,0.6,2.1275,-3.0,2.1288,-1.5,2.1302,-4.8,2.1315,-0.7,2.1328,-2.3,2.1342,0.1,2.1355,-3.3,2.1368,0.87,2.1382,-1.9,2.1395,-3.7,2.1408,-0.6,2.1422,-2.6,2.1435,0.3,2.1448,-3.2,2.1462,-1.1,2.1475,-2.4,2.1488,0.49,2.1502,-3.5,2.1515,-0.8,2.1528,-2.8,2.1542,-3.6,2.1555,-0.4,2.1568,-2.0,2.1582,0.2,2.1595,-3.1,2.1608,-1.3,2.1622,-2.6,2.1635,-0.3,2.1648,-3.3,2.1662,-1.0,2.1675,-2.2,2.1688,-0.2,2.1702,-3.0,2.1715,-1.4,2.1728,-2.7,2.1742,-0.6,2.1755,-3.1,2.1768,-1.2,2.1782,-2.4,2.1795,-0.7,2.1808,-2.9,2.1822,-1.5,2.1835,-2.2,2.1848,-0.9,2.1862,-2.8,2.1875,-1.3,2.1888,-2.1,2.1902,-1.0,2.1915,-2.5,2.1928,-1.6,2.1942,-2.0,2.1955,-1.2,2.1968,-2.2,2.1982,-1.4,2.1995,-1.9,2.2008,-1.1,2.2022,-2.0,2.2035,-1.3,2.2048,-1.7,2.2062,-1.0,2.2075,-1.8,2.2088,-1.2,2.2102,-1.6,2.2115,-0.9,2.2128,-1.5,2.2142,-1.1,2.2155,-2.0,2.2168,-1.3,2.2182,-1.8,2.2195,-1.0,2.2208,-1.6,2.2222,-1.2,2.2232,-3.8,2.2242,-1.0,2.2255,-0.6,2.2268,-1.0,2.2280,0.2,2.2292,-0.2,2.2305,0.6,2.2318,0.2,2.2330,1.0,2.2342,0.4,2.2355,0.9,2.2368,0.3,2.2380,1.05,2.2392,0.5,2.2405,0.9,2.2418,0.2,2.2430,0.8,2.2442,0.0,2.2452,0.5];
const fy4aMwirStd = [1.6510,2.00,1.6533,1.54,1.6600,2.26,1.6667,2.53,1.6688,2.72,1.6724,2.45,1.6755,3.80,1.6777,4.03,1.6800,4.80,1.6900,5.50,1.7100,6.00,1.7300,5.50,1.7470,4.60,1.7523,3.10,1.7555,2.56,1.7582,2.60,1.7600,2.10,1.7636,2.33,1.7671,2.03,1.7703,1.56,1.7734,1.95,1.7770,1.80,1.7805,2.03,1.7837,1.80,1.7868,1.49,1.7903,1.37,1.7939,1.56,1.7983,1.87,1.8015,2.10,1.8046,1.80,1.8081,2.26,1.8117,2.03,1.8171,2.37,1.8215,1.95,1.8260,1.41,1.8304,2.03,1.8349,1.99,1.8393,1.37,1.8429,2.10,1.8483,2.33,1.8527,2.41,1.8572,1.95,1.8616,2.26,1.8661,1.29,1.8705,2.33,1.8750,2.64,1.8794,2.56,1.8839,1.64,1.8883,2.03,1.8928,2.41,1.8972,2.76,1.9017,2.03,1.9061,2.33,1.9106,1.64,1.9150,1.95,1.9194,1.60,1.9239,2.56,1.9283,2.99,1.9319,2.56,1.9350,2.87,1.9381,1.95,1.9417,1.72,1.9461,2.87,1.9497,3.30,1.9528,2.72,1.9573,3.18,1.9617,2.10,1.9662,2.56,1.9706,3.57,1.9751,3.68,1.9795,3.49,1.9827,2.56,1.9862,2.03,1.9898,2.72,1.9929,3.34,1.9951,3.57,1.9987,2.95,2.0018,3.91,2.0050,3.41,2.0085,3.64,2.0130,2.72,2.0174,3.18,2.0210,3.72,2.0241,2.72,2.0276,4.03,2.0307,4.22,2.0343,3.26,2.0379,2.95,2.0419,3.57,2.0450,3.41,2.0485,2.95,2.0521,3.57,2.0566,3.34,2.0610,2.26,2.0641,2.95,2.0686,3.64,2.0730,3.88,2.0761,2.41,2.0797,3.34,2.0833,3.88,2.0864,3.26,2.0909,3.64,2.0940,3.95,2.0975,3.41,2.1020,3.72,2.1064,4.11,2.1109,4.49,2.1144,3.34,2.1180,3.64,2.1220,4.11,2.1251,3.34,2.1287,4.49,2.1331,4.41,2.1354,3.10,2.1385,4.11,2.1420,4.41,2.1465,4.60,2.1509,4.34,2.1554,4.55,2.1598,4.34,2.1643,4.11,2.1665,4.49,2.1710,4.26,2.1732,3.41,2.1767,3.72,2.1812,3.49,2.1843,2.72,2.1874,3.18,2.1919,2.72,2.1954,2.49,2.1990,2.41,2.2021,2.18,2.2066,2.33,2.2110,2.26,2.2155,2.33,2.2186,2.56,2.2213,3.10,2.2244,2.64,2.2275,2.26,2.2311,2.03,2.2355,1.95,2.2400,2.03,2.2444,2.06,2.2480,2.26,2.2498,3.88];

// ---------- FY4B MWIR ----------
const fy4bMwirAll = [1.6495,-0.05,1.6540,-0.15,1.6585,0.0,1.6630,-0.15,1.6675,0.0,1.6720,-0.15,1.6765,0.05,1.6810,-0.15,1.6855,0.0,1.6900,-0.15,1.6945,0.05,1.6990,-0.1,1.7035,0.05,1.7080,-0.15,1.7125,0.05,1.7170,-0.1,1.7215,0.1,1.7260,-0.1,1.7305,0.1,1.7350,-0.2,1.7395,0.1,1.7440,-0.2,1.7485,0.05,1.7530,-0.15,1.7575,0.1,1.7620,-0.05,1.7665,0.15,1.7710,-0.05,1.7755,0.15,1.7800,0.0,1.7845,0.2,1.7890,-0.05,1.7935,0.15,1.7980,0.0,1.8025,0.15,1.8070,-0.05,1.8115,0.15,1.8160,0.0,1.8205,0.1,1.8250,0.05,1.8295,0.2,1.8340,0.0,1.8385,0.15,1.8430,0.0,1.8475,0.2,1.8520,-0.05,1.8565,0.15,1.8610,0.05,1.8655,0.15,1.8700,-0.05,1.8745,0.2,1.8790,0.0,1.8835,0.15,1.8880,-0.05,1.8925,0.2,1.8970,0.0,1.9015,0.15,1.9060,0.0,1.9105,0.2,1.9150,0.05,1.9195,0.15,1.9240,0.0,1.9285,0.2,1.9330,0.05,1.9375,0.2,1.9420,0.0,1.9465,0.15,1.9510,0.0,1.9555,0.15,1.9600,0.0,1.9645,0.15,1.9690,0.05,1.9735,0.1,1.9780,0.0,1.9825,0.15,1.9870,0.05,1.9915,0.2,1.9960,0.0,2.0005,0.15,2.0050,0.0,2.0095,0.15,2.0140,-0.1,2.0185,0.2,2.0230,-0.05,2.0275,0.2,2.0320,-0.1,2.0365,0.2,2.0410,-0.05,2.0455,0.2,2.0500,-0.1,2.0545,0.2,2.0590,-0.15,2.0635,0.15,2.0680,-0.1,2.0725,0.15,2.0770,-0.2,2.0815,0.15,2.0860,-0.05,2.0905,0.15,2.0950,-0.1,2.0995,0.15,2.1040,-0.15,2.1085,0.1,2.1130,-0.05,2.1175,0.1,2.1220,-0.2,2.1265,0.1,2.1310,-0.2,2.1355,0.05,2.1400,-0.1,2.1445,0.05,2.1490,-0.2,2.1535,0.05,2.1580,-0.1,2.1625,0.05,2.1670,-0.05,2.1715,0.05,2.1760,-0.05,2.1805,0.0,2.1850,-0.05,2.1895,0.0,2.1940,-0.05,2.1985,-0.05,2.2030,-0.05,2.2075,-0.05,2.2120,-0.05,2.2165,-0.05,2.2210,-0.1,2.2228,-0.3,2.2250,-0.2,2.2295,-0.05,2.2340,0.05,2.2385,0.05,2.2430,0.0,2.2475,0.05,2.2525,-0.05];
const fy4bMwirCold = [1.6495,-0.1,1.6530,-0.2,1.6565,-0.05,1.6600,-0.2,1.6635,-0.1,1.6670,-0.25,1.6705,-0.1,1.6740,-0.2,1.6775,-0.05,1.6810,-0.2,1.6845,-0.1,1.6880,-0.25,1.6915,-0.05,1.6950,-0.2,1.6985,-0.1,1.7020,-0.2,1.7055,-0.05,1.7090,-0.25,1.7125,-0.1,1.7160,-0.15,1.7195,0.0,1.7230,-0.2,1.7265,-0.05,1.7300,-0.2,1.7335,-0.1,1.7370,-0.2,1.7405,0.0,1.7440,-0.2,1.7475,-0.05,1.7510,-0.2,1.7545,0.05,1.7580,-0.15,1.7615,-0.05,1.7650,-0.2,1.7685,0.0,1.7720,-0.15,1.7755,0.05,1.7790,-0.15,1.7825,0.1,1.7860,-0.1,1.7895,0.05,1.7930,-0.15,1.7965,0.1,1.8000,-0.1,1.8035,0.05,1.8070,-0.15,1.8105,0.0,1.8140,-0.1,1.8175,0.05,1.8210,-0.15,1.8245,0.0,1.8280,-0.1,1.8315,0.05,1.8350,-0.15,1.8385,0.0,1.8420,-0.1,1.8455,0.1,1.8490,-0.1,1.8525,-0.05,1.8560,-0.2,1.8595,0.05,1.8630,-0.1,1.8665,0.0,1.8700,-0.15,1.8735,0.05,1.8770,-0.1,1.8805,0.05,1.8840,-0.15,1.8875,0.0,1.8910,-0.15,1.8945,0.05,1.8980,-0.1,1.9015,0.0,1.9050,-0.15,1.9085,0.05,1.9120,-0.1,1.9155,0.1,1.9190,-0.1,1.9225,0.05,1.9260,-0.1,1.9295,0.05,1.9330,-0.15,1.9365,0.05,1.9400,-0.1,1.9435,0.05,1.9470,-0.1,1.9505,0.0,1.9540,-0.15,1.9575,0.05,1.9610,-0.1,1.9645,0.0,1.9680,-0.1,1.9715,0.05,1.9750,-0.1,1.9785,0.0,1.9820,-0.1,1.9855,0.05,1.9890,-0.05,1.9925,0.05,1.9960,-0.1,1.9995,0.0,2.0030,-0.1,2.0065,0.1,2.0100,-0.15,2.0135,0.05,2.0170,-0.2,2.0205,0.1,2.0240,-0.1,2.0275,0.1,2.0310,-0.15,2.0345,0.05,2.0380,-0.2,2.0415,0.1,2.0450,-0.15,2.0485,0.05,2.0520,-0.25,2.0555,0.1,2.0590,-0.2,2.0625,0.1,2.0660,-0.3,2.0695,0.05,2.0730,-0.35,2.0765,0.1,2.0800,-0.2,2.0835,0.1,2.0870,-0.15,2.0905,0.05,2.0940,-0.2,2.0975,0.1,2.1010,-0.1,2.1045,0.05,2.1080,-0.2,2.1105,0.15,2.1140,-0.15,2.1175,0.05,2.1210,-0.25,2.1245,0.0,2.1280,-0.2,2.1315,0.05,2.1350,-0.3,2.1385,0.0,2.1420,-0.15,2.1455,0.05,2.1490,-0.2,2.1525,0.0,2.1560,-0.15,2.1595,0.0,2.1630,-0.15,2.1665,0.0,2.1700,-0.1,2.1735,0.0,2.1770,-0.1,2.1805,-0.05,2.1840,-0.1,2.1875,-0.05,2.1910,-0.1,2.1945,-0.05,2.1980,-0.1,2.2015,-0.1,2.2050,-0.05,2.2085,-0.1,2.2120,-0.05,2.2155,-0.1,2.2190,-0.05,2.2215,-0.1,2.2230,-0.25,2.2255,-0.15,2.2290,-0.05,2.2325,0.0,2.2360,0.05,2.2395,0.0,2.2430,0.05,2.2465,0.0,2.2500,-0.05,2.2525,-0.15];
const fy4bMwirWarm = [1.6495,-0.05,1.6512,0.12,1.6530,-0.22,1.6548,0.05,1.6565,-0.15,1.6585,0.08,1.6600,-0.25,1.6620,-0.02,1.6638,0.12,1.6655,-0.18,1.6672,0.02,1.6690,-0.1,1.6710,0.15,1.6728,-0.2,1.6745,0.05,1.6765,-0.05,1.6782,0.1,1.6800,-0.22,1.6818,0.18,1.6838,-0.08,1.6855,0.05,1.6875,-0.2,1.6892,0.12,1.6910,-0.05,1.6930,0.22,1.6948,-0.15,1.6965,0.0,1.6985,-0.25,1.7002,0.15,1.7020,0.02,1.7040,0.2,1.7058,-0.18,1.7075,0.1,1.7095,-0.05,1.7112,0.28,1.7130,-0.2,1.7150,0.05,1.7168,-0.3,1.7185,0.22,1.7205,0.0,1.7222,0.3,1.7240,-0.12,1.7260,0.1,1.7278,-0.35,1.7295,0.18,1.7315,-0.05,1.7332,0.32,1.7350,-0.2,1.7370,0.08,1.7388,-0.45,1.7405,0.2,1.7425,-0.1,1.7442,0.35,1.7460,-0.05,1.7480,0.15,1.7498,-0.3,1.7515,0.38,1.7535,-0.15,1.7552,0.1,1.7570,-0.5,1.7590,0.25,1.7608,0.0,1.7625,0.42,1.7645,-0.2,1.7662,0.15,1.7680,-0.35,1.7700,0.3,1.7718,-0.05,1.7735,0.45,1.7755,-0.25,1.7772,0.1,1.7790,-0.5,1.7810,0.4,1.7828,0.05,1.7845,0.25,1.7865,-0.3,1.7882,0.45,1.7900,-0.1,1.7920,0.2,1.7938,-0.4,1.7955,0.35,1.7975,0.0,1.7992,0.5,1.8010,-0.2,1.8030,0.15,1.8048,-0.3,1.8065,0.4,1.8085,-0.05,1.8102,0.25,1.8120,-0.15,1.8140,0.3,1.8158,-0.35,1.8175,0.1,1.8195,-0.1,1.8212,0.45,1.8230,0.0,1.8250,0.2,1.8268,-0.3,1.8285,0.35,1.8305,-0.15,1.8322,0.5,1.8340,-0.05,1.8360,0.3,1.8378,-0.25,1.8395,0.15,1.8415,-0.45,1.8432,0.4,1.8450,0.0,1.8470,0.25,1.8488,-0.2,1.8505,0.45,1.8525,-0.1,1.8542,0.2,1.8560,-0.35,1.8580,0.3,1.8598,-0.05,1.8615,0.5,1.8635,-0.25,1.8652,0.35,1.8670,-0.4,1.8690,0.55,1.8708,0.0,1.8725,0.3,1.8745,-0.3,1.8762,0.5,1.8780,-0.1,1.8800,0.2,1.8818,-0.45,1.8835,0.45,1.8855,0.05,1.8872,0.3,1.8890,-0.2,1.8910,0.55,1.8928,-0.1,1.8945,0.25,1.8965,-0.35,1.8982,0.4,1.9000,-0.05,1.9020,0.45,1.9038,-0.55,1.9055,0.3,1.9075,0.0,1.9092,0.5,1.9110,-0.2,1.9130,0.35,1.9148,-0.35,1.9165,0.55,1.9185,0.05,1.9202,0.3,1.9220,-0.25,1.9240,0.45,1.9258,-0.1,1.9275,0.2,1.9295,-0.4,1.9312,0.5,1.9330,0.0,1.9350,0.35,1.9368,-0.3,1.9385,0.45,1.9405,-0.05,1.9422,0.25,1.9440,-0.35,1.9460,0.5,1.9478,0.05,1.9495,0.3,1.9515,-0.25,1.9532,0.45,1.9550,-0.1,1.9570,0.2,1.9588,-0.3,1.9605,0.4,1.9625,0.0,1.9642,0.5,1.9660,-0.2,1.9680,0.3,1.9698,-0.35,1.9715,0.45,1.9735,0.05,1.9752,0.25,1.9770,-0.4,1.9790,0.5,1.9808,-0.1,1.9825,0.3,1.9845,-0.3,1.9862,0.45,1.9880,0.0,1.9900,0.6,1.9918,-0.2,1.9935,0.35,1.9955,-0.4,1.9972,0.55,1.9990,-0.05,2.0010,0.25,2.0028,-0.35,2.0045,0.4,2.0065,-0.1,2.0082,0.2,2.0100,-0.55,2.0120,0.35,2.0138,-0.65,2.0155,0.3,2.0175,-0.2,2.0192,0.5,2.0210,-0.45,2.0230,0.4,2.0248,0.0,2.0265,0.55,2.0285,-0.35,2.0302,0.45,2.0320,-0.5,2.0340,0.2,2.0358,-0.15,2.0375,0.6,2.0395,-0.3,2.0412,0.45,2.0430,-0.55,2.0450,0.35,2.0468,-0.1,2.0485,0.5,2.0505,-0.45,2.0522,0.25,2.0540,-0.2,2.0560,0.6,2.0578,-0.65,2.0595,0.3,2.0615,-0.3,2.0632,0.5,2.0650,-0.5,2.0670,0.2,2.0688,-0.25,2.0705,0.45,2.0725,-0.6,2.0742,-0.8,2.0760,0.35,2.0778,-0.2,2.0795,0.55,2.0815,-0.4,2.0832,0.3,2.0850,-0.15,2.0870,0.5,2.0888,-0.5,2.0905,0.25,2.0925,-0.3,2.0942,0.45,2.0960,-0.6,2.0980,0.35,2.0998,-0.05,2.1015,0.55,2.1035,-0.3,2.1052,0.2,2.1070,-0.5,2.1090,0.45,2.1108,-0.15,2.1125,0.3,2.1145,-0.45,2.1162,0.4,2.1180,-0.2,2.1200,0.5,2.1218,-0.55,2.1235,0.25,2.1255,-0.1,2.1272,0.35,2.1290,-0.4,2.1310,0.2,2.1328,-0.75,2.1345,0.3,2.1365,-0.15,2.1382,0.4,2.1400,-0.45,2.1420,0.25,2.1438,-0.2,2.1455,0.3,2.1475,-0.65,2.1492,0.2,2.1510,-0.1,2.1530,0.35,2.1548,-0.35,2.1565,0.15,2.1585,-0.25,2.1602,0.3,2.1620,-0.65,2.1640,0.2,2.1658,-0.1,2.1675,0.25,2.1695,-0.3,2.1712,0.15,2.1730,-0.2,2.1750,0.2,2.1768,-0.1,2.1785,0.1,2.1805,-0.25,2.1822,0.15,2.1840,-0.05,2.1860,0.1,2.1878,-0.2,2.1895,0.05,2.1915,-0.1,2.1935,0.08,2.1955,-0.12,2.1975,0.02,2.1995,-0.1,2.2015,-0.02,2.2035,-0.12,2.2055,-0.03,2.2075,-0.1,2.2095,0.0,2.2115,-0.08,2.2135,-0.02,2.2155,-0.1,2.2175,0.0,2.2195,-0.12,2.2212,-0.15,2.2225,-0.38,2.2240,-0.2,2.2260,-0.05,2.2280,0.05,2.2300,-0.05,2.2320,0.1,2.2340,0.02,2.2360,0.12,2.2380,-0.02,2.2400,0.08,2.2420,0.0,2.2440,0.1,2.2460,-0.05,2.2480,0.15,2.2500,0.0,2.2515,0.12,2.2525,0.05];
const fy4bMwirStd = [1.6488,0.25,1.6501,0.37,1.6545,0.25,1.6598,0.50,1.6641,0.33,1.6685,0.49,1.6729,0.25,1.6781,0.45,1.6838,0.29,1.6895,0.41,1.6948,0.27,1.7013,0.25,1.7079,0.33,1.7144,0.52,1.7188,0.33,1.7254,0.60,1.7297,0.33,1.7363,0.45,1.7429,0.33,1.7494,0.37,1.7560,0.60,1.7604,0.33,1.7647,0.64,1.7700,0.41,1.7757,0.56,1.7801,0.33,1.7866,0.68,1.7932,0.41,1.7989,0.56,1.8041,0.72,1.8085,0.52,1.8150,0.87,1.8207,0.72,1.8251,0.41,1.8304,0.64,1.8369,0.72,1.8426,0.52,1.8479,0.33,1.8531,0.95,1.8588,0.83,1.8632,0.95,1.8689,0.49,1.8741,0.95,1.8794,1.06,1.8829,0.79,1.8872,0.64,1.8916,0.87,1.8951,0.52,1.8995,1.14,1.9038,0.91,1.9082,0.72,1.9126,0.87,1.9170,0.52,1.9222,0.72,1.9266,1.22,1.9310,1.14,1.9345,0.72,1.9375,1.22,1.9419,0.95,1.9450,0.52,1.9493,1.10,1.9528,1.45,1.9563,0.87,1.9598,1.37,1.9638,1.26,1.9673,0.68,1.9717,1.41,1.9756,1.72,1.9791,1.80,1.9826,1.56,1.9857,1.33,1.9900,0.72,1.9931,0.56,1.9975,1.49,2.0010,1.80,2.0045,1.87,2.0088,1.33,2.0132,1.72,2.0176,0.72,2.0211,1.56,2.0250,1.76,2.0294,1.37,2.0316,2.14,2.0360,1.87,2.0395,1.10,2.0425,0.72,2.0469,1.80,2.0513,1.72,2.0556,1.64,2.0600,0.87,2.0644,1.33,2.0688,0.72,2.0718,1.72,2.0753,1.80,2.0788,0.64,2.0832,1.64,2.0863,1.95,2.0906,1.49,2.0950,1.72,2.0994,2.10,2.1038,1.64,2.1068,2.18,2.1103,1.56,2.1138,0.95,2.1182,1.95,2.1226,1.64,2.1269,1.99,2.1300,2.26,2.1331,2.49,2.1374,1.18,2.1409,2.41,2.1444,2.49,2.1475,1.56,2.1506,2.18,2.1541,2.26,2.1584,2.33,2.1619,1.49,2.1650,2.03,2.1694,2.26,2.1738,1.87,2.1781,2.10,2.1825,1.56,2.1869,1.41,2.1913,1.26,2.1956,1.10,2.2000,0.95,2.2044,0.83,2.2087,0.79,2.2131,0.83,2.2175,0.79,2.2232,1.18,2.2262,0.87,2.2306,0.72,2.2372,0.72,2.2459,0.75,2.2503,0.75,2.2525,0.89];

// ---------- styling constants ----------
const FONT = "'DejaVu Sans', sans-serif";
const AX = '#262626';
const GRIDC = '#dcdcdc';
const COLORS = { all: '#EDB120', cold: '#0072BD', warm: '#D95319', std: '#7E2F8E' };
const panels = [
  { left: 143, top: 100, width: 1137, height: 514, xmin: 6.7, xmax: 11.4, ticks: lwirTicks, band: 0, sat: 0 },
  { left: 1396, top: 100, width: 1156, height: 514, xmin: 6.7, xmax: 11.4, ticks: lwirTicks, band: 0, sat: 1 },
  { left: 152, top: 756, width: 1136, height: 513, xmin: 1.64, xmax: 2.26, ticks: mwirTicks, band: 1, sat: 0 },
  { left: 1398, top: 756, width: 1154, height: 513, xmin: 1.64, xmax: 2.26, ticks: mwirTicks, band: 1, sat: 1 }
];
const seriesData = [
  [fy4aLwirAll, fy4aLwirCold, fy4aLwirWarm, fy4aLwirStd],
  [fy4bLwirAll, fy4bLwirCold, fy4bLwirWarm, fy4bLwirStd],
  [fy4aMwirAll, fy4aMwirCold, fy4aMwirWarm, fy4aMwirStd],
  [fy4bMwirAll, fy4bMwirCold, fy4bMwirWarm, fy4bMwirStd]
];

function pairs(flat) { const out = []; for (let i = 0; i + 1 < flat.length; i += 2) out.push([flat[i], flat[i + 1]]); return out; }

const grid = [], xAxis = [], yAxis = [], series = [], graphic = [];
panels.forEach((p, g) => {
  grid.push({ left: p.left, top: p.top, width: p.width, height: p.height, containLabel: false, outerBoundsMode: 'none' });
  const tick = { show: true, inside: true, length: 11, lineStyle: { color: AX, width: 1.3 } };
  const line = { show: true, onZero: false, lineStyle: { color: AX, width: 1.3 } };
  xAxis.push({
    type: 'value', gridIndex: g, min: p.xmin, max: p.xmax, position: 'bottom',
    axisLine: line, axisTick: Object.assign({ customValues: p.ticks }, tick),
    axisLabel: { show: true, customValues: p.ticks, color: AX, fontFamily: FONT, fontWeight: 'bold', fontSize: 32, margin: 17 },
    splitLine: { show: true, lineStyle: { color: GRIDC, width: 1.2 } },
    name: '{nu|ν} [m{sup|-1}]', nameLocation: 'middle', nameGap: 70, nameMoveOverlap: false,
    nameTextStyle: { color: AX, fontFamily: FONT, fontWeight: 'bold', fontSize: 34, lineHeight: 40,
      rich: { nu: { fontFamily: "'DejaVu Serif', serif", fontStyle: 'italic', fontWeight: 'normal', fontSize: 34, color: AX, lineHeight: 40 },
              sup: { fontFamily: FONT, fontWeight: 'bold', fontSize: 22, color: AX, verticalAlign: 'top', lineHeight: 24 } } }
  });
  xAxis.push({
    type: 'value', gridIndex: g, min: p.xmin, max: p.xmax, position: 'top',
    axisLine: line, axisTick: Object.assign({ customValues: p.ticks }, tick),
    axisLabel: { show: false }, splitLine: { show: false }
  });
  const yl = {
    type: 'value', gridIndex: g, min: -4.5, max: 4.5, position: 'left',
    axisLine: line, axisTick: Object.assign({ customValues: yTicks }, tick),
    axisLabel: { show: true, customValues: yTicks, color: AX, fontFamily: FONT, fontWeight: 'bold', fontSize: 30, margin: 14 },
    splitLine: { show: true, lineStyle: { color: GRIDC, width: 1.2 } }
  };
  if (p.sat === 0) {
    yl.name = bandNames[p.band] + '\nEdT: GIIRS - IASI [K]';
    yl.nameLocation = 'middle'; yl.nameGap = p.band === 0 ? 58 : 59; yl.nameRotate = 90; yl.nameMoveOverlap = false;
    yl.nameTextStyle = { color: AX, fontFamily: FONT, fontWeight: 'bold', fontSize: 36, lineHeight: 43, align: 'center' };
  }
  yAxis.push(yl);
  yAxis.push({
    type: 'value', gridIndex: g, min: -4.5, max: 4.5, position: 'right',
    axisLine: line, axisTick: Object.assign({ customValues: yTicks }, tick),
    axisLabel: { show: false }, splitLine: { show: false }
  });
  const names = p.band === 1 && p.sat === 1 ? legendBottom : legendTop;
  const cols = [COLORS.all, COLORS.cold, COLORS.warm, COLORS.std];
  seriesData[g].forEach((arr, k) => {
    series.push({
      type: 'line', name: names[k], xAxisIndex: 2 * g, yAxisIndex: 2 * g,
      data: pairs(arr), showSymbol: false, symbol: 'none', clip: true, animation: false,
      lineStyle: { color: cols[k], width: 1.25 }, itemStyle: { color: cols[k] },
      emphasis: { disabled: true }, silent: true, z: 2 + k
    });
  });
  // exponent label  "×10^n"
  const R = p.left + p.width;
  const cy = p.band === 0 ? 701 : 1356;
  graphic.push({ type: 'text', x: R - 18, y: cy, silent: true,
    style: { text: '{a|×}{b|10}', align: 'right', verticalAlign: 'middle', textAlign: 'right', textVerticalAlign: 'middle', fill: AX,
      rich: { a: { fontFamily: FONT, fontSize: 30, fontWeight: 'normal', fill: AX, color: AX }, b: { fontFamily: FONT, fontSize: 32, fontWeight: 'bold', fill: AX, color: AX } } } });
  graphic.push({ type: 'text', x: R - 18, y: cy - 15, silent: true,
    style: { text: p.band === 0 ? '4' : '5', font: "bold 24px 'DejaVu Sans'", align: 'left', verticalAlign: 'middle', textAlign: 'left', textVerticalAlign: 'middle', fill: AX } });
});
// titles
[[712, panelTitles[0]], [1974, panelTitles[1]]].forEach(([x, t]) => {
  graphic.push({ type: 'text', x: x, y: 65, silent: true,
    style: { text: t, font: "bold 36px 'DejaVu Sans'", align: 'center', verticalAlign: 'middle', textAlign: 'center', textVerticalAlign: 'middle', fill: '#000' } });
});

const legendBase = {
  orient: 'vertical', icon: 'rect', itemHeight: 2, itemGap: 7, selectedMode: false,
  borderColor: AX, borderWidth: 1.3, backgroundColor: '#fff', borderRadius: 0,
  textStyle: { fontFamily: FONT, fontWeight: 'bold', fontSize: 30, lineHeight: 30, color: '#000', padding: [0, 0, 0, 4] }
};
const legend = [
  Object.assign({}, legendBase, { data: legendTop, left: 2189, top: 438, itemWidth: 89, padding: [9, 11, 9, 13] }),
  Object.assign({}, legendBase, { data: legendBottom, left: 2177, top: 1096, itemWidth: 90, padding: [8, 11, 8, 11] })
];

const chart = echarts.init(document.getElementById('c'), null, { renderer: 'canvas' });
chart.setOption({ animation: false, backgroundColor: '#fff', grid, xAxis, yAxis, series, legend, graphic });
</script>
</body></html>
